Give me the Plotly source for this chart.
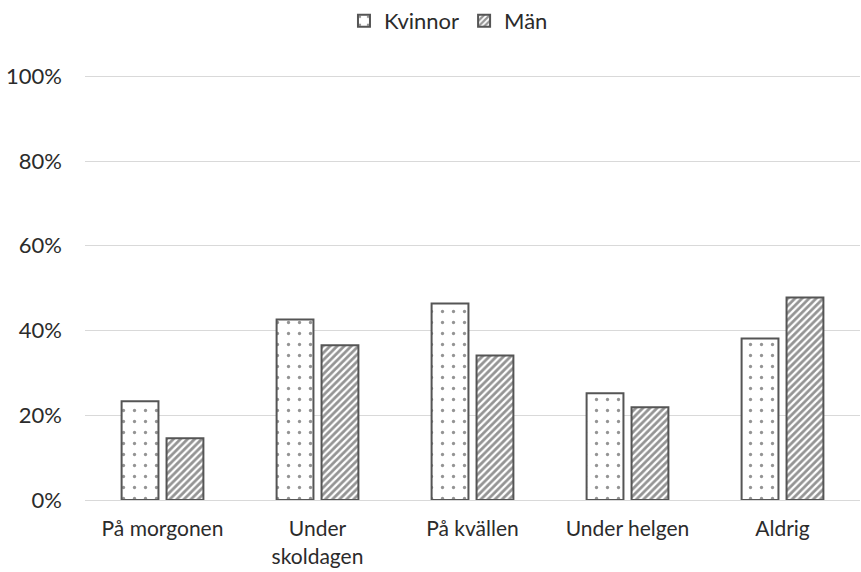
import plotly.graph_objects as go

categories = ["På morgonen", "Under<br>skoldagen", "På kvällen", "Under helgen", "Aldrig"]
kvinnor = [23.3, 42.6, 46.4, 25.2, 38.1]
man = [14.6, 36.5, 34.1, 21.9, 47.8]
tick_vals = [0, 20, 40, 60, 80, 100]
tick_text = ["0%", "20%", "40%", "60%", "80%", "100%"]

edge = "#555555"
fig = go.Figure()
fig.add_trace(go.Bar(
    name="Kvinnor", x=categories, y=kvinnor,
    marker=dict(color="white", line=dict(color=edge, width=2),
                pattern=dict(shape=".", fgcolor="#2a2a2a", bgcolor="white", size=11, solidity=0.07)),
))
fig.add_trace(go.Bar(
    name="Män", x=categories, y=man,
    marker=dict(color="white", line=dict(color=edge, width=2),
                pattern=dict(shape="/", fgcolor="#2a2a2a", bgcolor="white", size=5, solidity=0.55)),
))
fig.update_layout(
    width=861, height=572,
    margin=dict(l=85, r=1, t=75, b=72, autoexpand=False),
    paper_bgcolor="white", plot_bgcolor="white",
    barmode="group", bargap=0.42, bargroupgap=0.18,
    font=dict(family="Lato, Open Sans, sans-serif", size=22, color="#2b2b2b"),
    legend=dict(orientation="h", x=0.469, xanchor="center", y=1.0, yanchor="top",
                yref="container", font=dict(size=22), itemwidth=30, traceorder="normal"),
    showlegend=True,
)
fig.update_yaxes(range=[0, 100.3], tickvals=tick_vals, ticktext=tick_text,
                 showgrid=True, gridcolor="#d9d9d9", gridwidth=1.3, automargin=False,
                 zeroline=False, showline=False, ticks="", ticklabelstandoff=22)
fig.update_xaxes(showline=True, linecolor="#d9d9d9", linewidth=1.3, ticks="", automargin=False,
                 ticklabelstandoff=10, tickfont=dict(size=21))
fig.write_html("out.html", config={"displayModeBar": False},
               post_script="document.body.style.margin='0';")
